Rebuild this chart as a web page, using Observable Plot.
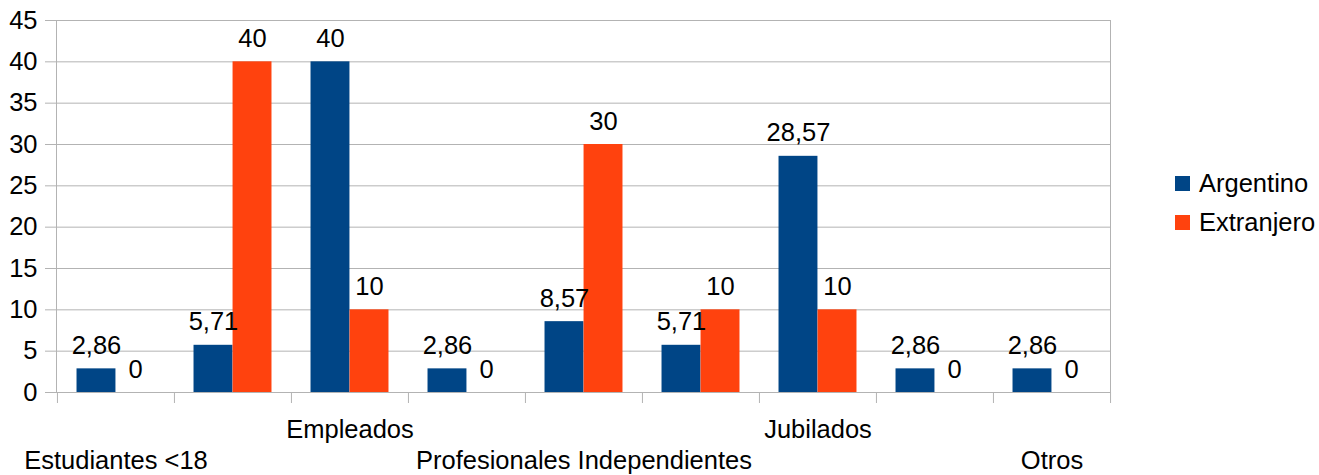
<!DOCTYPE html>
<html><head><meta charset="utf-8">
<script src="https://cdn.jsdelivr.net/npm/d3@7"></script>
<script src="https://cdn.jsdelivr.net/npm/@observablehq/plot@0.6"></script>
<style>
html,body{margin:0;padding:0;background:#fff;}
#chart{position:relative;width:1319px;height:475px;font-family:"Liberation Sans",Arial,sans-serif;color:#000;}
#chart svg{display:block;}
.legend{position:absolute;left:1175px;top:164px;font-size:25.5px;line-height:39px;}
.legend .item{display:flex;align-items:center;height:39px;}
.legend .sw{width:15px;height:15px;margin-right:9px;flex:none;}
</style></head><body><div id="chart"></div>
<script>
const categoryLabels = ["Estudiantes <18", "", "Empleados", "", "Profesionales Independientes", "", "Jubilados", "", "Otros"];
const seriesNames = ["Argentino", "Extranjero"];
const argentino = [2.86, 5.71, 40, 2.86, 8.57, 5.71, 28.57, 2.86, 2.86];
const extranjero = [0, 40, 10, 0, 30, 10, 10, 0, 0];
const yTicks = [0, 5, 10, 15, 20, 25, 30, 35, 40, 45];
const colors = ["#004586", "#ff420e"];

const W = 1319, H = 475, mL = 56, mR = 209, mT = 20, mB = 83;
const idx = d3.range(categoryLabels.length);
const bw = (W - mL - mR) / idx.length;
const rowsA = idx.map(i => ({i, s: seriesNames[0], v: argentino[i]}));
const rowsE = idx.map(i => ({i, s: seriesNames[1], v: extranjero[i]}));
const fmt = v => String(v).replace(".", ",");
const FS = 25.5;

const chart = Plot.plot({
  width: W, height: H,
  marginLeft: mL, marginRight: mR, marginTop: mT, marginBottom: mB,
  style: {fontFamily: "'Liberation Sans', Arial, sans-serif", fontSize: FS + "px", color: "#000", background: "#fff", overflow: "visible"},
  x: {type: "band", domain: idx, padding: 0, axis: null},
  y: {domain: [0, 45], axis: null},
  color: {domain: seriesNames, range: colors},
  marks: [
    Plot.gridY(yTicks, {stroke: "#b3b3b3", strokeOpacity: 1}),
    Plot.frame({stroke: "#b3b3b3"}),
    Plot.axisY({ticks: yTicks, label: null, tickSize: 11, tickPadding: 8, stroke: "#b3b3b3", fill: "#000", fontSize: FS}),
    Plot.axisX({ticks: idx, label: null, tickSize: 11, tickFormat: () => "", dx: -bw / 2, stroke: "#b3b3b3"}),
    Plot.axisX({ticks: [idx[idx.length - 1]], label: null, tickSize: 11, tickFormat: () => "", dx: bw / 2, stroke: "#b3b3b3"}),
    Plot.axisX({ticks: idx.filter(i => i % 4 === 0), label: null, tickSize: 0, tickPadding: 58, tickFormat: i => categoryLabels[i], fill: "#000", fontSize: FS}),
    Plot.axisX({ticks: idx.filter(i => i % 4 === 2), label: null, tickSize: 0, tickPadding: 27, tickFormat: i => categoryLabels[i], fill: "#000", fontSize: FS}),
    Plot.barY(rowsA, {x: "i", y: "v", fill: "s", insetLeft: bw / 6, insetRight: bw / 2}),
    Plot.barY(rowsE, {x: "i", y: "v", fill: "s", insetLeft: bw / 2, insetRight: bw / 6}),
    Plot.text(rowsA, {x: "i", y: "v", text: d => fmt(d.v), dx: -bw / 6, dy: -23, lineAnchor: "middle", fill: "#000", fontSize: FS}),
    Plot.text(rowsE, {x: "i", y: "v", text: d => fmt(d.v), dx: bw / 6, dy: -23, lineAnchor: "middle", fill: "#000", fontSize: FS})
  ]
});
const root = document.getElementById("chart");
root.appendChild(chart);
const legend = document.createElement("div");
legend.className = "legend";
seriesNames.forEach((name, k) => {
  const item = document.createElement("div");
  item.className = "item";
  const sw = document.createElement("span");
  sw.className = "sw";
  sw.style.background = colors[k];
  const t = document.createElement("span");
  t.textContent = name;
  item.appendChild(sw); item.appendChild(t);
  legend.appendChild(item);
});
root.appendChild(legend);
</script></body></html>
